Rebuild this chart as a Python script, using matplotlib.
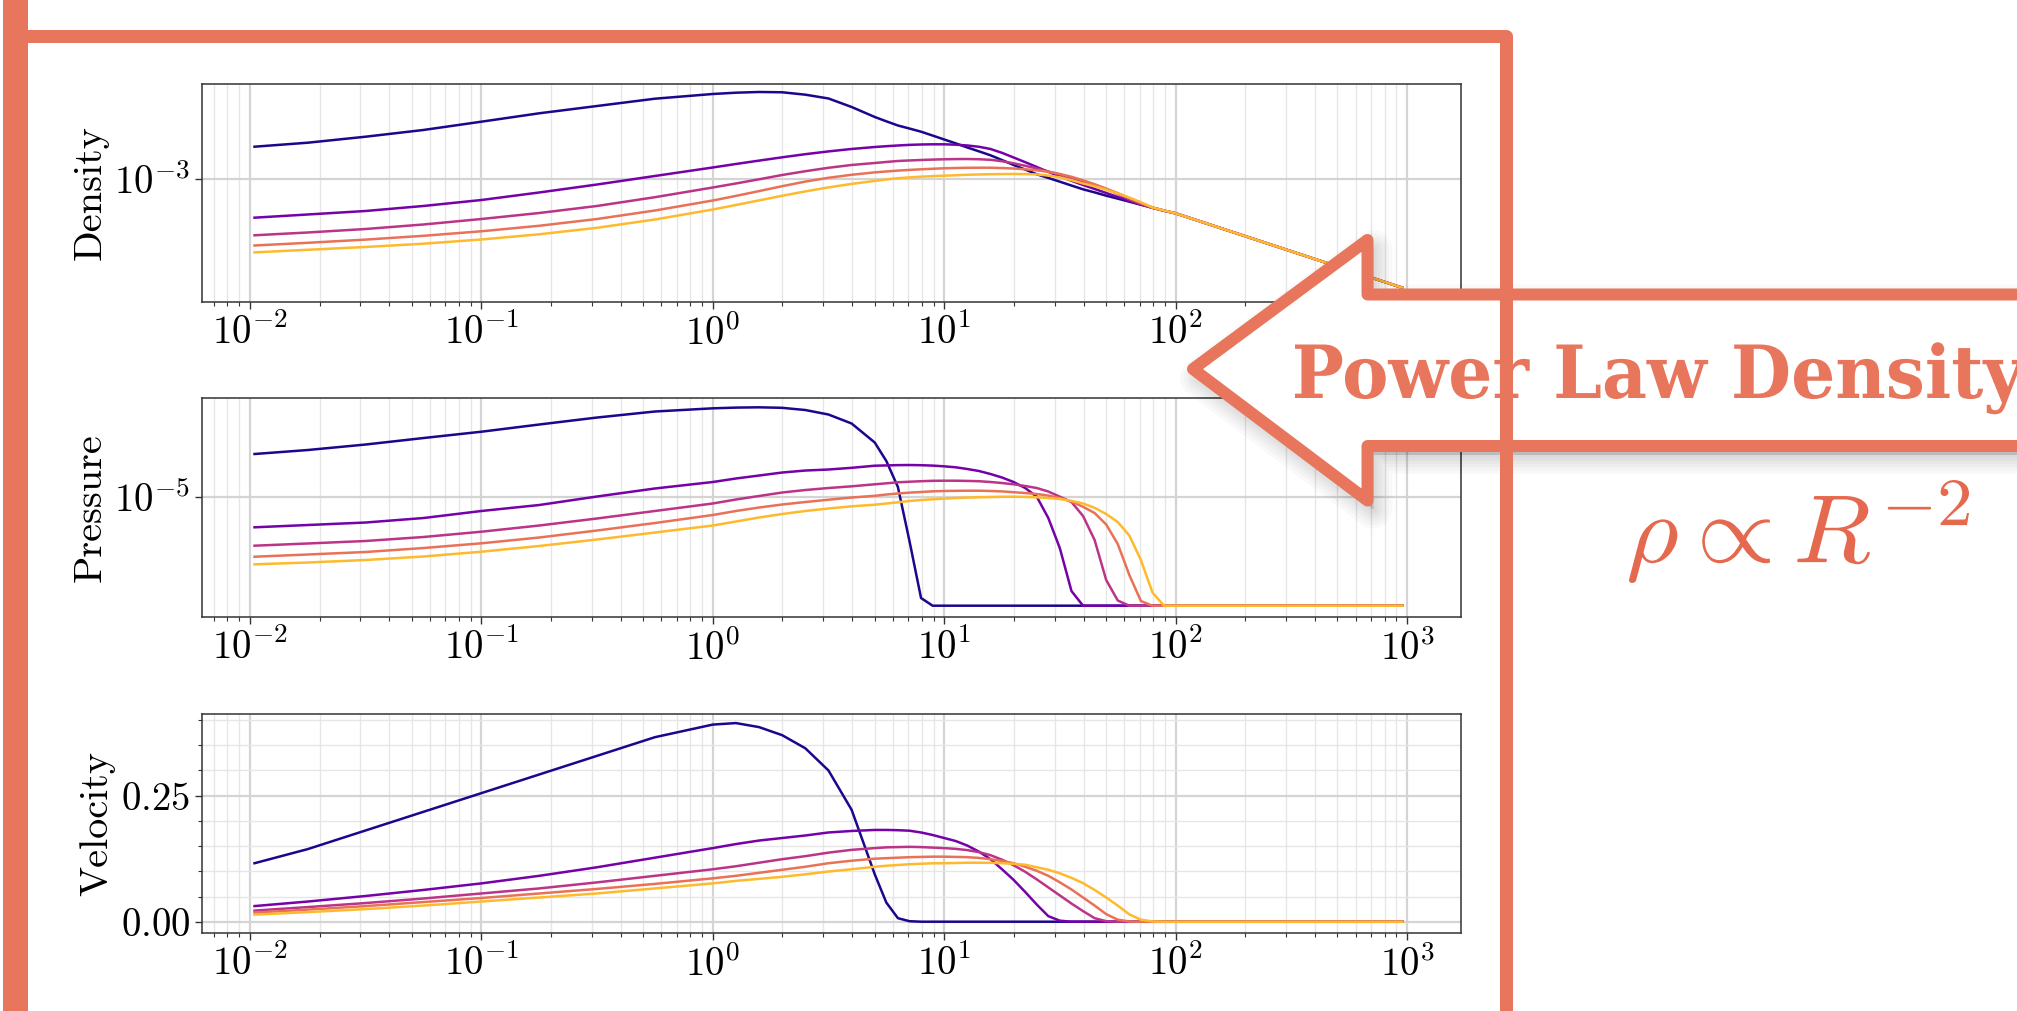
import numpy as np
import matplotlib
matplotlib.use('Agg')
import matplotlib.pyplot as plt
from matplotlib.patches import Polygon, Rectangle, PathPatch
from matplotlib.ticker import FixedLocator, NullLocator, MultipleLocator
from matplotlib.textpath import TextPath
from matplotlib.font_manager import FontProperties
from matplotlib.transforms import Affine2D

plt.rcParams['font.family'] = 'serif'
plt.rcParams['font.serif'] = ['cmr10']
plt.rcParams['mathtext.fontset'] = 'cm'
plt.rcParams['axes.formatter.use_mathtext'] = True

W, H = 2017, 1011
ORANGE = '#E8765C'

# radius grid shared by all snapshots
r = [0.01047, 0.01778, 0.03162, 0.05623, 0.1, 0.1778, 0.3162, 0.5623,
     1.0, 1.259, 1.585, 1.995, 2.512, 3.162, 3.981,
     5.012, 5.623, 6.310, 7.079, 7.943, 8.913, 10.0, 11.22, 12.59, 14.13,
     15.85, 17.78, 19.95, 22.39, 25.12, 28.18, 31.62, 35.48, 39.81, 44.67,
     50.12, 56.23, 63.10, 70.79, 79.43, 89.13, 100.0,
     177.8, 316.2, 562.3, 955.0]

# log10 density, one list per snapshot
log_rho_1 = [-2.158, -2.053, -1.895, -1.718, -1.5, -1.279, -1.087, -0.895,
             -0.771, -0.737, -0.718, -0.726, -0.789, -0.889, -1.113,
             -1.376, -1.49, -1.6, -1.68, -1.763, -1.865, -1.968, -2.07, -2.179, -2.28,
             -2.384, -2.51, -2.639, -2.76, -2.884, -2.98, -3.079, -3.18, -3.279, -3.36,
             -3.447, -3.525, -3.605, -3.685, -3.763, -3.84, -3.911,
             -4.411, -4.911, -5.411, -5.871]
log_rho_2 = [-4.026, -3.942, -3.85, -3.718, -3.561, -3.363, -3.153, -2.929,
             -2.705, -2.613, -2.524, -2.437, -2.355, -2.282, -2.218,
             -2.166, -2.145, -2.126, -2.11, -2.1, -2.095, -2.095, -2.105, -2.126, -2.16,
             -2.218, -2.32, -2.442, -2.565, -2.692, -2.82, -2.942, -3.055, -3.166, -3.27,
             -3.376, -3.48, -3.587, -3.68, -3.763, -3.84, -3.911,
             -4.411, -4.911, -5.411, -5.871]
log_rho_3 = [-4.489, -4.416, -4.324, -4.205, -4.061, -3.903, -3.718, -3.487,
             -3.232, -3.126, -3.016, -2.903, -2.803, -2.713, -2.639,
             -2.587, -2.56, -2.534, -2.52, -2.508, -2.497, -2.489, -2.484, -2.482, -2.488,
             -2.503, -2.54, -2.595, -2.66, -2.732, -2.81, -2.889, -2.98, -3.074, -3.17,
             -3.271, -3.4, -3.547, -3.665, -3.771, -3.845, -3.911,
             -4.411, -4.911, -5.411, -5.871]
log_rho_4 = [-4.758, -4.687, -4.603, -4.503, -4.384, -4.239, -4.061, -3.837,
             -3.574, -3.453, -3.326, -3.197, -3.076, -2.976, -2.897,
             -2.834, -2.81, -2.787, -2.769, -2.753, -2.739, -2.726, -2.719, -2.713, -2.711,
             -2.711, -2.72, -2.732, -2.752, -2.779, -2.82, -2.876, -2.95, -3.042, -3.145,
             -3.263, -3.38, -3.508, -3.635, -3.758, -3.84, -3.911,
             -4.411, -4.911, -5.411, -5.871]
log_rho_5 = [-4.939, -4.871, -4.797, -4.711, -4.6, -4.463, -4.292, -4.074,
             -3.811, -3.692, -3.571, -3.45, -3.334, -3.229, -3.137,
             -3.058, -3.02, -2.987, -2.966, -2.947, -2.933, -2.921, -2.909, -2.897, -2.889,
             -2.882, -2.878, -2.876, -2.879, -2.887, -2.918, -2.963, -3.04, -3.126, -3.2,
             -3.29, -3.39, -3.5, -3.62, -3.758, -3.835, -3.911,
             -4.411, -4.911, -5.411, -5.871]

# log10 pressure (floor at 1e-8)
log_p_1 = [-3.813, -3.703, -3.551, -3.372, -3.198, -2.999, -2.806, -2.64,
           -2.552, -2.532, -2.524, -2.538, -2.599, -2.723, -2.971,
           -3.496, -4.006, -4.724, -6.214, -7.788, -8, -8, -8, -8, -8,
           -8, -8, -8, -8, -8, -8, -8, -8, -8, -8,
           -8, -8, -8, -8, -8, -8, -8,
           -8, -8, -8, -8]
log_p_2 = [-5.836, -5.773, -5.704, -5.58, -5.386, -5.221, -4.986, -4.765,
           -4.586, -4.489, -4.407, -4.324, -4.269, -4.241, -4.194,
           -4.136, -4.128, -4.12, -4.117, -4.122, -4.133, -4.153, -4.18, -4.227, -4.282,
           -4.365, -4.462, -4.586, -4.752, -4.992, -5.58, -6.416, -7.595, -8, -8,
           -8, -8, -8, -8, -8, -8, -8,
           -8, -8, -8, -8]
log_p_3 = [-6.344, -6.283, -6.214, -6.104, -5.958, -5.787, -5.593, -5.386,
           -5.179, -5.069, -4.972, -4.876, -4.807, -4.752, -4.705,
           -4.649, -4.622, -4.594, -4.578, -4.564, -4.553, -4.55, -4.55, -4.556, -4.564,
           -4.586, -4.614, -4.649, -4.696, -4.752, -4.848, -4.992, -5.138, -5.524, -6.187,
           -7.291, -7.857, -8, -8, -8, -8, -8,
           -8, -8, -8, -8]
log_p_4 = [-6.648, -6.587, -6.518, -6.408, -6.278, -6.118, -5.925, -5.718,
           -5.497, -5.386, -5.29, -5.207, -5.138, -5.075, -5.014,
           -4.967, -4.931, -4.903, -4.879, -4.862, -4.843, -4.834, -4.829, -4.826, -4.826,
           -4.834, -4.845, -4.868, -4.89, -4.917, -4.961, -5.028, -5.124, -5.27, -5.442,
           -5.759, -6.297, -7.153, -7.871, -8, -8, -8,
           -8, -8, -8, -8]
log_p_5 = [-6.858, -6.808, -6.739, -6.642, -6.51, -6.352, -6.173, -5.98,
           -5.787, -5.676, -5.566, -5.469, -5.386, -5.317, -5.257,
           -5.213, -5.179, -5.146, -5.11, -5.083, -5.063, -5.044, -5.028, -5.017, -5.008,
           -5.0, -4.994, -4.992, -4.997, -5.008, -5.028, -5.055, -5.105, -5.179, -5.298,
           -5.469, -5.69, -6.063, -6.739, -7.636, -8, -8,
           -8, -8, -8, -8]

# velocity
vel_1 = [0.116, 0.144, 0.181, 0.218, 0.255, 0.292, 0.329, 0.366,
         0.391, 0.394, 0.386, 0.370, 0.344, 0.300, 0.222,
         0.094, 0.038, 0.007, 0.001, 0, 0, 0, 0, 0, 0,
         0, 0, 0, 0, 0, 0, 0, 0, 0, 0,
         0, 0, 0, 0, 0, 0, 0,
         0, 0, 0, 0]
vel_2 = [0.031, 0.040, 0.051, 0.063, 0.076, 0.091, 0.108, 0.127,
         0.146, 0.154, 0.161, 0.166, 0.171, 0.177, 0.180,
         0.182, 0.182, 0.1815, 0.1805, 0.177, 0.172, 0.166, 0.160, 0.151, 0.139,
         0.124, 0.104, 0.083, 0.059, 0.034, 0.011, 0.002, 0, 0, 0,
         0, 0, 0, 0, 0, 0, 0,
         0, 0, 0, 0]
vel_3 = [0.022, 0.029, 0.037, 0.046, 0.056, 0.066, 0.078, 0.091,
         0.104, 0.110, 0.117, 0.124, 0.130, 0.137, 0.1425,
         0.146, 0.1475, 0.148, 0.1485, 0.148, 0.147, 0.146, 0.1445, 0.142, 0.138,
         0.132, 0.123, 0.112, 0.099, 0.084, 0.068, 0.052, 0.036, 0.021, 0.007,
         0.001, 0, 0, 0, 0, 0, 0,
         0, 0, 0, 0]
vel_4 = [0.018, 0.024, 0.031, 0.039, 0.047, 0.056, 0.065, 0.075,
         0.086, 0.091, 0.097, 0.103, 0.109, 0.116, 0.121,
         0.125, 0.126, 0.127, 0.128, 0.1285, 0.129, 0.129, 0.1285, 0.128, 0.1265,
         0.124, 0.1205, 0.116, 0.109, 0.101, 0.091, 0.078, 0.064, 0.048, 0.032,
         0.015, 0.004, 0.0005, 0, 0, 0, 0,
         0, 0, 0, 0]
vel_5 = [0.014, 0.019, 0.025, 0.032, 0.040, 0.048, 0.056, 0.066,
         0.076, 0.081, 0.085, 0.089, 0.094, 0.0995, 0.104,
         0.109, 0.111, 0.1125, 0.114, 0.115, 0.1158, 0.116, 0.1165, 0.117, 0.117,
         0.1168, 0.116, 0.1148, 0.113, 0.108, 0.103, 0.096, 0.087, 0.0765, 0.063,
         0.048, 0.032, 0.0145, 0.004, 0.0005, 0, 0,
         0, 0, 0, 0]

panel_names = ['Density', 'Pressure', 'Velocity']
colors = plt.cm.plasma(np.linspace(0.02, 0.85, 5))

fig = plt.figure(figsize=(W / 100, H / 100), dpi=100)

# panel boxes in pixels (top, bottom)
boxes = [(84, 302), (398, 617), (714, 933)]
axes = []
for top, bottom in boxes:
    ax = fig.add_axes([202 / W, 1 - bottom / H, (1460.5 - 202) / W, (bottom - top) / H])
    axes.append(ax)

series = [
    [10 ** np.array(s) for s in (log_rho_1, log_rho_2, log_rho_3, log_rho_4, log_rho_5)],
    [10 ** np.array(s) for s in (log_p_1, log_p_2, log_p_3, log_p_4, log_p_5)],
    [np.array(s) for s in (vel_1, vel_2, vel_3, vel_4, vel_5)],
]

axes[0].set_yscale('log')
axes[1].set_yscale('log')

for i, ax in enumerate(axes):
    for c, y in zip(colors, series[i]):
        ax.plot(r, y, color=c, lw=1.8)
    ax.set_xscale('log')
    ax.set_xlim(10 ** -2.207, 10 ** 3.231)
    ax.set_ylabel(panel_names[i], fontsize=29)
    ax.tick_params(which='both', labelsize=28, color='#333333')
    ax.tick_params(which='major', length=5, width=1)
    ax.tick_params(which='minor', length=3, width=0.8)
    for s in ax.spines.values():
        s.set_color('#333333')
        s.set_linewidth(1.1)
    ax.grid(which='major', color='#d4d4d4', lw=1.6)
    ax.grid(which='minor', color='#e6e6e6', lw=1.0)
    ax.set_axisbelow(True)

axes[0].set_ylim(10 ** -6.245, 10 ** -0.508)
axes[0].yaxis.set_major_locator(FixedLocator([1e-3]))
axes[0].yaxis.set_minor_locator(NullLocator())

axes[1].set_ylim(10 ** -8.312, 10 ** -2.267)
axes[1].yaxis.set_major_locator(FixedLocator([1e-5]))
axes[1].yaxis.set_minor_locator(NullLocator())

axes[2].set_ylim(-0.0224, 0.412)
axes[2].yaxis.set_major_locator(MultipleLocator(0.25))
axes[2].yaxis.set_minor_locator(MultipleLocator(0.05))

# overlay in pixel coordinates for the slide decoration
ov = fig.add_axes([0, 0, 1, 1])
ov.set_xlim(0, W)
ov.set_ylim(H, 0)
ov.axis('off')

ov.add_patch(Rectangle((3, -5), 25, H + 10, color=ORANGE, lw=0))
ov.plot([15, 1506, 1506], [36, 36, H + 20], color=ORANGE, lw=13 * 0.72,
        solid_joinstyle='round', solid_capstyle='butt')

arrow = np.array([(1193, 369), (1367.5, 240), (1367.5, 294.5), (2080, 294.5),
                  (2080, 446), (1367.5, 446), (1367.5, 500.5)])
for lw in [38, 31, 24, 18, 12, 6]:
    ov.add_patch(Polygon(arrow + [6, 9], closed=True, fc=(0, 0, 0, 0.024),
                         ec=(0, 0, 0, 0.024), lw=lw * 0.72, joinstyle='round'))
ov.add_patch(Polygon(arrow, closed=True, fc='white', ec=ORANGE, lw=12 * 0.72,
                     joinstyle='round'))

# banner text, scaled to the measured cap height and span
fp = FontProperties(family='DejaVu Serif', weight='bold')
cap = TextPath((0, 0), 'P', size=100, prop=fp).get_extents()
span = TextPath((0, 0), 'Power Law Densit', size=100, prop=fp).get_extents()
sx = (1983 - 1295) / span.width
sy = 53.5 / cap.height
tp = TextPath((0, 0), 'Power Law Density', size=100, prop=fp)
tr = Affine2D().translate(-cap.x0, 0).scale(sx, -sy).translate(1295, 398)
ov.add_patch(PathPatch(tr.transform_path(tp), fc=ORANGE, ec='none'))

# formula, fitted to its ink box
fp_math = FontProperties(family='serif', size=100)
mp = TextPath((0, 0), r'$\rho \propto R^{-2}$', size=100, prop=fp_math)
ext = mp.get_extents()
tr = (Affine2D().translate(-ext.x0, -ext.y1)
      .scale((1969 - 1629) / ext.width, -(583 - 480) / ext.height)
      .translate(1629, 480))
ov.add_patch(PathPatch(tr.transform_path(mp), fc='#E4694F', ec='none'))

fig.savefig('out.png', dpi=100)
